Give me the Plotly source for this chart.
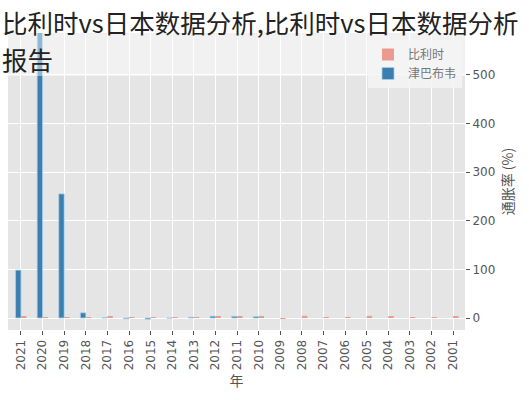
import plotly.graph_objects as go

years = list(range(2001, 2022))
belgium = [2.47, 1.64, 1.59, 2.10, 2.78, 1.79, 1.82, 4.49, -0.05, 2.19, 3.53, 2.84,
           1.11, 0.34, 0.56, 1.97, 2.13, 2.05, 1.44, 0.74, 2.44]
zimbabwe = [None, None, None, None, None, None, None, None, None, 3.03, 3.47, 3.72,
            1.63, -0.22, -2.41, -1.56, 0.91, 10.61, 255.3, 628.0, 98.5]
y_ticks = [0, 100, 200, 300, 400, 500]

W, H = 529, 400
L, R, T, B = 8, 64, 33, 70
PW, PH = W - L - R, H - T - B

fig = go.Figure()
fig.add_trace(go.Bar(x=years, y=belgium, name="比利时",
                     marker=dict(color="#ec9a8e", line=dict(width=0))))
fig.add_trace(go.Bar(x=years, y=zimbabwe, name="津巴布韦", cliponaxis=False,
                     marker=dict(color="#3a7fb0", line=dict(color="#a9cde6", width=0.8))))

fig.update_layout(
    width=W, height=H,
    margin=dict(l=L, r=R, t=T, b=B, pad=0, autoexpand=False),
    paper_bgcolor="white", plot_bgcolor="#e5e5e5",
    barmode="group", bargap=0.5, bargroupgap=0,
    font=dict(family="Noto Sans CJK SC", color="#555555", size=11),
    showlegend=True,
    legend=dict(x=(462 - L) / PW, xanchor="right", y=1 - (40 - T) / PH, yanchor="top",
                xref="paper", yref="paper",
                bgcolor="rgba(245,245,245,0.85)", borderwidth=0,
                font=dict(size=12, color="#777777"), itemwidth=30),
    xaxis=dict(range=[2021.6, 2000.45], tickmode="array", tickvals=years,
               ticktext=[str(y) for y in years], tickangle=-90,
               showgrid=True, gridcolor="white", gridwidth=1, zeroline=False,
               ticks="outside", ticklen=4, tickcolor="#555555",
               tickfont=dict(size=12, color="#555555", family="DejaVu Sans"),
               title=dict(text="年", font=dict(size=14, color="#555555"), standoff=6)),
    yaxis=dict(range=[-24.7, 586.4], side="right", tickvals=y_ticks,
               showgrid=True, gridcolor="white", gridwidth=1, zeroline=False,
               ticks="outside", ticklen=4, tickcolor="#555555",
               tickfont=dict(size=12, color="#555555", family="DejaVu Sans"),
               title=dict(text="通胀率 (%)", font=dict(size=14, color="#555555"), standoff=8)),
)

# light overlay band behind the title
fig.add_shape(type="rect", xref="paper", yref="paper", x0=-0.02, x1=1.0,
              y0=1 - (76 - T) / PH, y1=1.0,
              fillcolor="white", opacity=0.45, line=dict(width=0), layer="above")

fig.add_annotation(text="比利时vs日本数据分析,比利时vs日本数据分析", xref="paper", yref="paper",
                   x=-L / PW, xanchor="left", y=1 + (T - 1) / PH, yanchor="top",
                   showarrow=False, font=dict(size=25.5, color="#222222", family="Noto Sans CJK SC"))
fig.add_annotation(text="报告", xref="paper", yref="paper",
                   x=-L / PW, xanchor="left", y=1 + (T - 38) / PH, yanchor="top",
                   showarrow=False, font=dict(size=25.5, color="#222222", family="Noto Sans CJK SC"))

fig.write_html("out.html", config={"displayModeBar": False},
               post_script="document.body.style.margin='0';")
